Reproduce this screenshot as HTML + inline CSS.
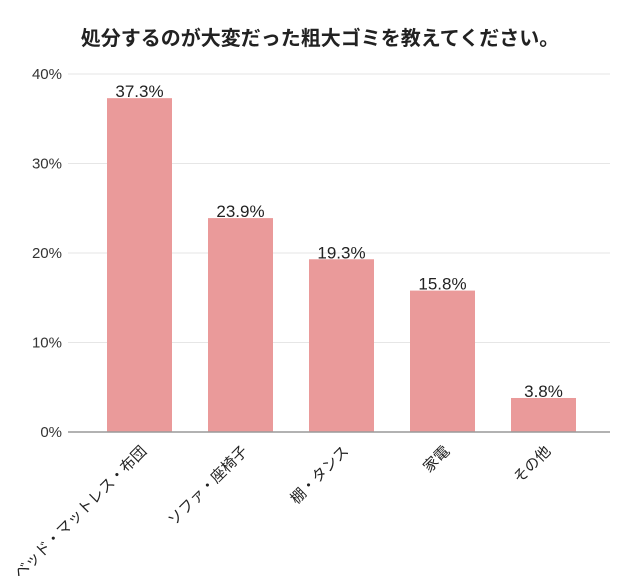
<!DOCTYPE html>
<html><head><meta charset="utf-8"><style>
body{margin:0;background:#fff;}
svg{display:block;font-family:"Liberation Sans","Noto Sans CJK JP",sans-serif;}
</style></head><body>
<svg id="c" width="640" height="588">
<text x="320" y="45" text-anchor="middle" font-size="20" font-weight="bold" fill="#222">処分するのが大変だった粗大ゴミを教えてください。</text>
<g id="grid"></g><g id="bars"></g>
</svg>
<script>
const categories=["ベッド・マットレス・布団","ソファ・座椅子","棚・タンス","家電","その他"];
const values=[37.3,23.9,19.3,15.8,3.8];
const ticks=[0,10,20,30,40];
const ns="http://www.w3.org/2000/svg";
const y0=432,pxPer=(432-74)/40,x0=107,step=101,bw=65;
const y=v=>y0-v*pxPer;
const grid=document.getElementById('grid'),bars=document.getElementById('bars');
function mk(tag,attrs,parent){const e=document.createElementNS(ns,tag);for(const k in attrs)e.setAttribute(k,attrs[k]);parent.appendChild(e);return e;}
ticks.forEach(t=>{
  if(t>0){const l=mk('line',{x1:68,x2:610,y1:y(t),y2:y(t),stroke:'#e6e6e6','stroke-width':1},grid);
  
  }
  const tx=mk('text',{x:62,y:y(t)+5,'text-anchor':'end','font-size':15,fill:'#333'},grid);
  tx.textContent=t+'%';
  
  
});
values.forEach((v,i)=>{
  const x=x0+i*step,cx=x+bw/2;
  const r=mk('rect',{x:x,y:y(v),width:bw,height:y0-y(v),fill:'#ea9a9a'},bars);
  
  
  const lb=mk('text',{x:cx,y:y(v)-1,'text-anchor':'middle','font-size':17,fill:'#222'},bars);
  lb.textContent=v.toFixed(1)+'%';
  
  
  const cl=mk('text',{x:cx+8,y:452,'text-anchor':'end','font-size':15,fill:'#222',transform:`rotate(-45 ${cx+8} 452)`},bars);
  cl.textContent=categories[i];
  
  
});
const ax=mk('line',{x1:68,x2:610,y1:y0,y2:y0,stroke:'#999','stroke-width':1.5},bars);


</script>
</body></html>
